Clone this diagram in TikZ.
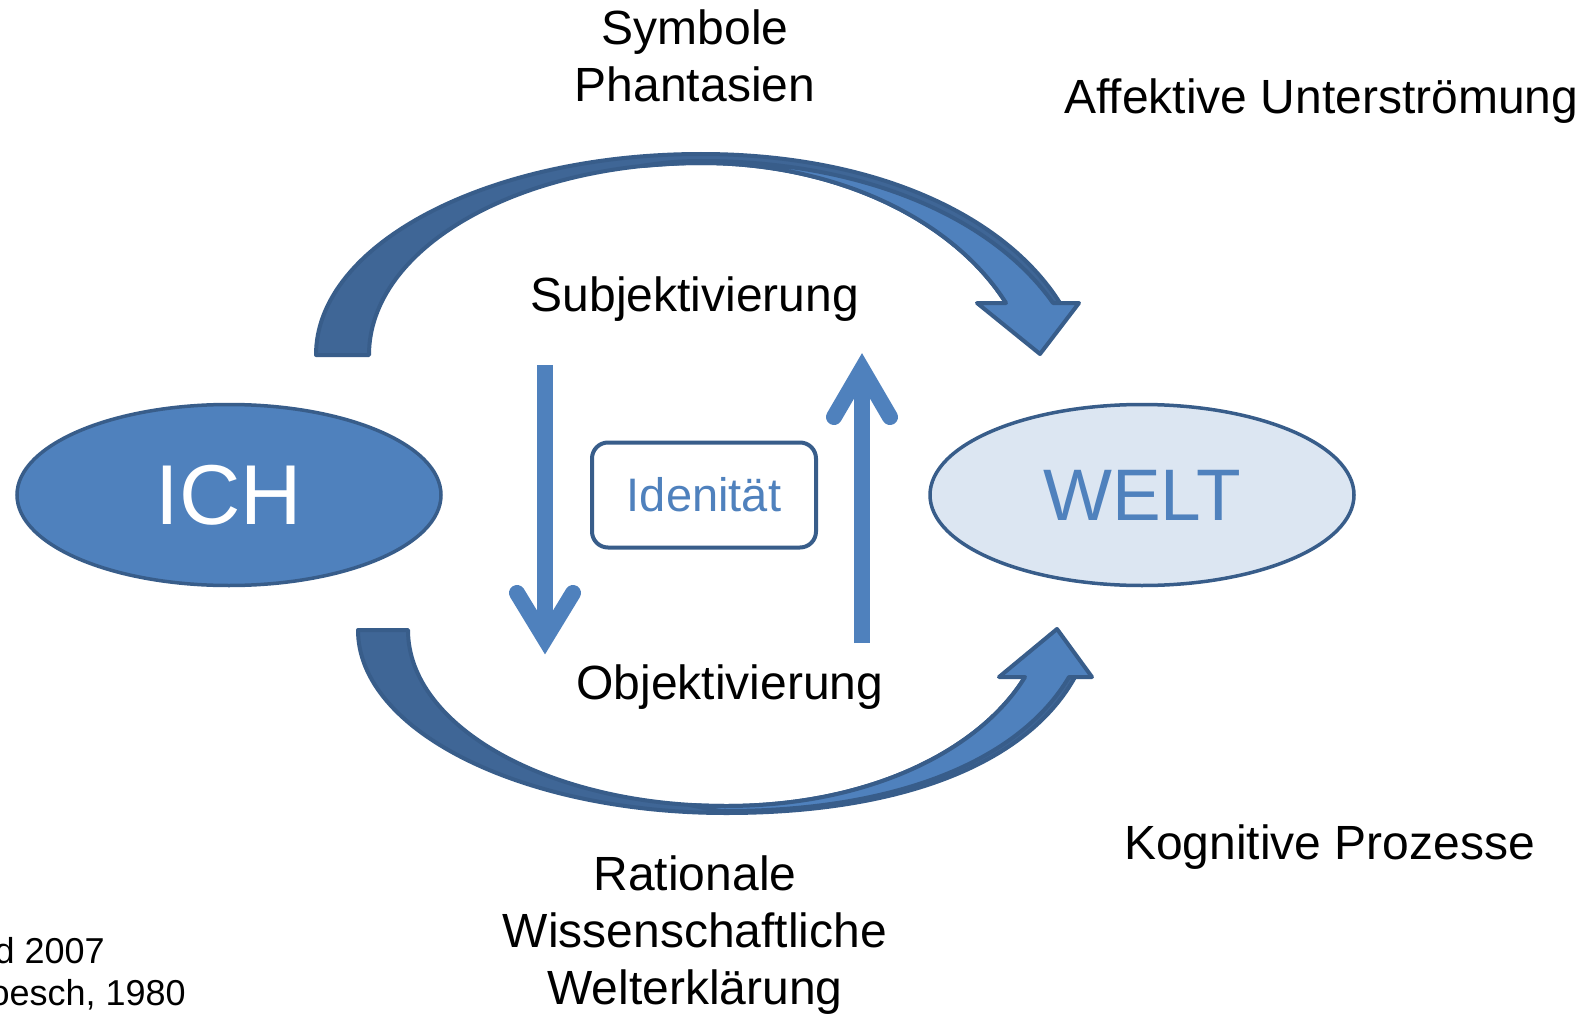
\documentclass[tikz,border=0pt]{standalone}
\usepackage{fontspec}
\setmainfont{Liberation Sans}
\usetikzlibrary{shapes.geometric}
\definecolor{accent}{RGB}{79,129,189}
\definecolor{edgeblue}{RGB}{56,93,138}
\definecolor{backband}{RGB}{63,102,150}
\definecolor{weltfill}{RGB}{220,230,242}
\begin{document}
\begin{tikzpicture}[x=1pt,y=-1pt,
  lbl/.style={anchor=base, inner sep=0pt, font=\fontsize{48}{56}\selectfont},
  backshape/.style={fill=backband, draw=edgeblue, line width=4pt, line join=round},
  frontshape/.style={fill=accent, draw=edgeblue, line width=4pt, line join=round},
  straightarrow/.style={draw=accent, line width=16pt},
  chevron/.style={draw=accent, line width=16pt, line cap=round, line join=miter},
  blob/.style={ellipse, draw=edgeblue, line width=3.5pt, inner sep=0pt, minimum width=424pt, minimum height=181pt}]
\useasboundingbox (0,0) rectangle (1593,1014);
\fill[white] (0,0) rectangle (1593,1014);

% top curved arrow
\path[backshape] (316,355) .. controls (316,244) and (488,154) .. (701,154)
  .. controls (872,154) and (1004,214) .. (1060,303) -- (1006,303)
  .. controls (955,222) and (840,163) .. (701,163)
  .. controls (518,163) and (369,248) .. (369,355) -- cycle;
\path[frontshape] (642,166) .. controls (665,162) and (685,161) .. (701,161)
  .. controls (866,161) and (994,219) .. (1053,303) -- (1079,303) -- (1040,354)
  -- (977,303) -- (1006,303) .. controls (955,222) and (840,163) .. (701,163)
  .. controls (680,163) and (660,164.5) .. (642,166) -- cycle;

% bottom curved arrow
\path[backshape] (358,630) .. controls (358,731) and (523,813) .. (726,813)
  .. controls (905,813) and (1028,762) .. (1075,677) -- (1025,677)
  .. controls (980,750) and (870,806) .. (726,806)
  .. controls (550,806) and (408,727) .. (408,630) -- cycle;
\path[frontshape] (690,805) .. controls (705,808) and (715,811) .. (726,811)
  .. controls (898,811) and (1020,760) .. (1069,677) -- (1092,677) -- (1057,629)
  -- (999,677) -- (1025,677) .. controls (980,750) and (870,806) .. (726,806)
  .. controls (712,806) and (700,805.5) .. (690,805) -- cycle;

% ellipses
\node[blob, fill=accent] (ich) at (229,495) {\fontsize{85}{85}\selectfont\color{white}ICH};
\node[blob, fill=weltfill] (welt) at (1142,495) {\fontsize{73}{73}\selectfont\color{accent}WELT};

% identity box
\node[draw=edgeblue, line width=4pt, rounded corners=16pt, minimum width=224pt, minimum height=105pt, inner sep=0pt, text=accent, font=\fontsize{47}{47}\selectfont] (ident) at (704,495) {Idenität};

% labels
\node[lbl] (symb) at (695,45) {Symbole};
\node[lbl] (phan) at (695,102) {Phantasien};
\node[lbl, anchor=base west] (affekt) at (1064,114) {Affektive Unterströmung};
\node[lbl] (subj) at (695,311) {Subjektivierung};
\node[lbl] (obj) at (730,699) {Objektivierung};
\node[lbl, anchor=base west] (kogn) at (1124,859) {Kognitive Prozesse};
\node[lbl] (rat) at (695,890) {Rationale};
\node[lbl] (wiss) at (695,947) {Wissenschaftliche};
\node[lbl] (welterk) at (695,1004) {Welterklärung};
\node[anchor=base east, inner sep=0pt, font=\fontsize{36}{40}\selectfont] (src1) at (105,963) {und 2007};
\node[anchor=base east, inner sep=0pt, font=\fontsize{36}{40}\selectfont] (src2) at (186,1005) {Boesch, 1980};

% straight arrows
\coordinate (dtop) at (545,365);
\coordinate (dtip) at (545,639);
\coordinate (dl) at (517,593);
\coordinate (dr) at (573,593);
\draw[straightarrow] (dtop) -- (dtip);
\draw[chevron] (dl) -- (dtip) -- (dr);
\coordinate (ubot) at (862,643);
\coordinate (utip) at (862,369);
\coordinate (ul) at (834,417);
\coordinate (ur) at (890,417);
\draw[straightarrow] (ubot) -- (utip);
\draw[chevron] (ul) -- (utip) -- (ur);
\end{tikzpicture}
\end{document}
